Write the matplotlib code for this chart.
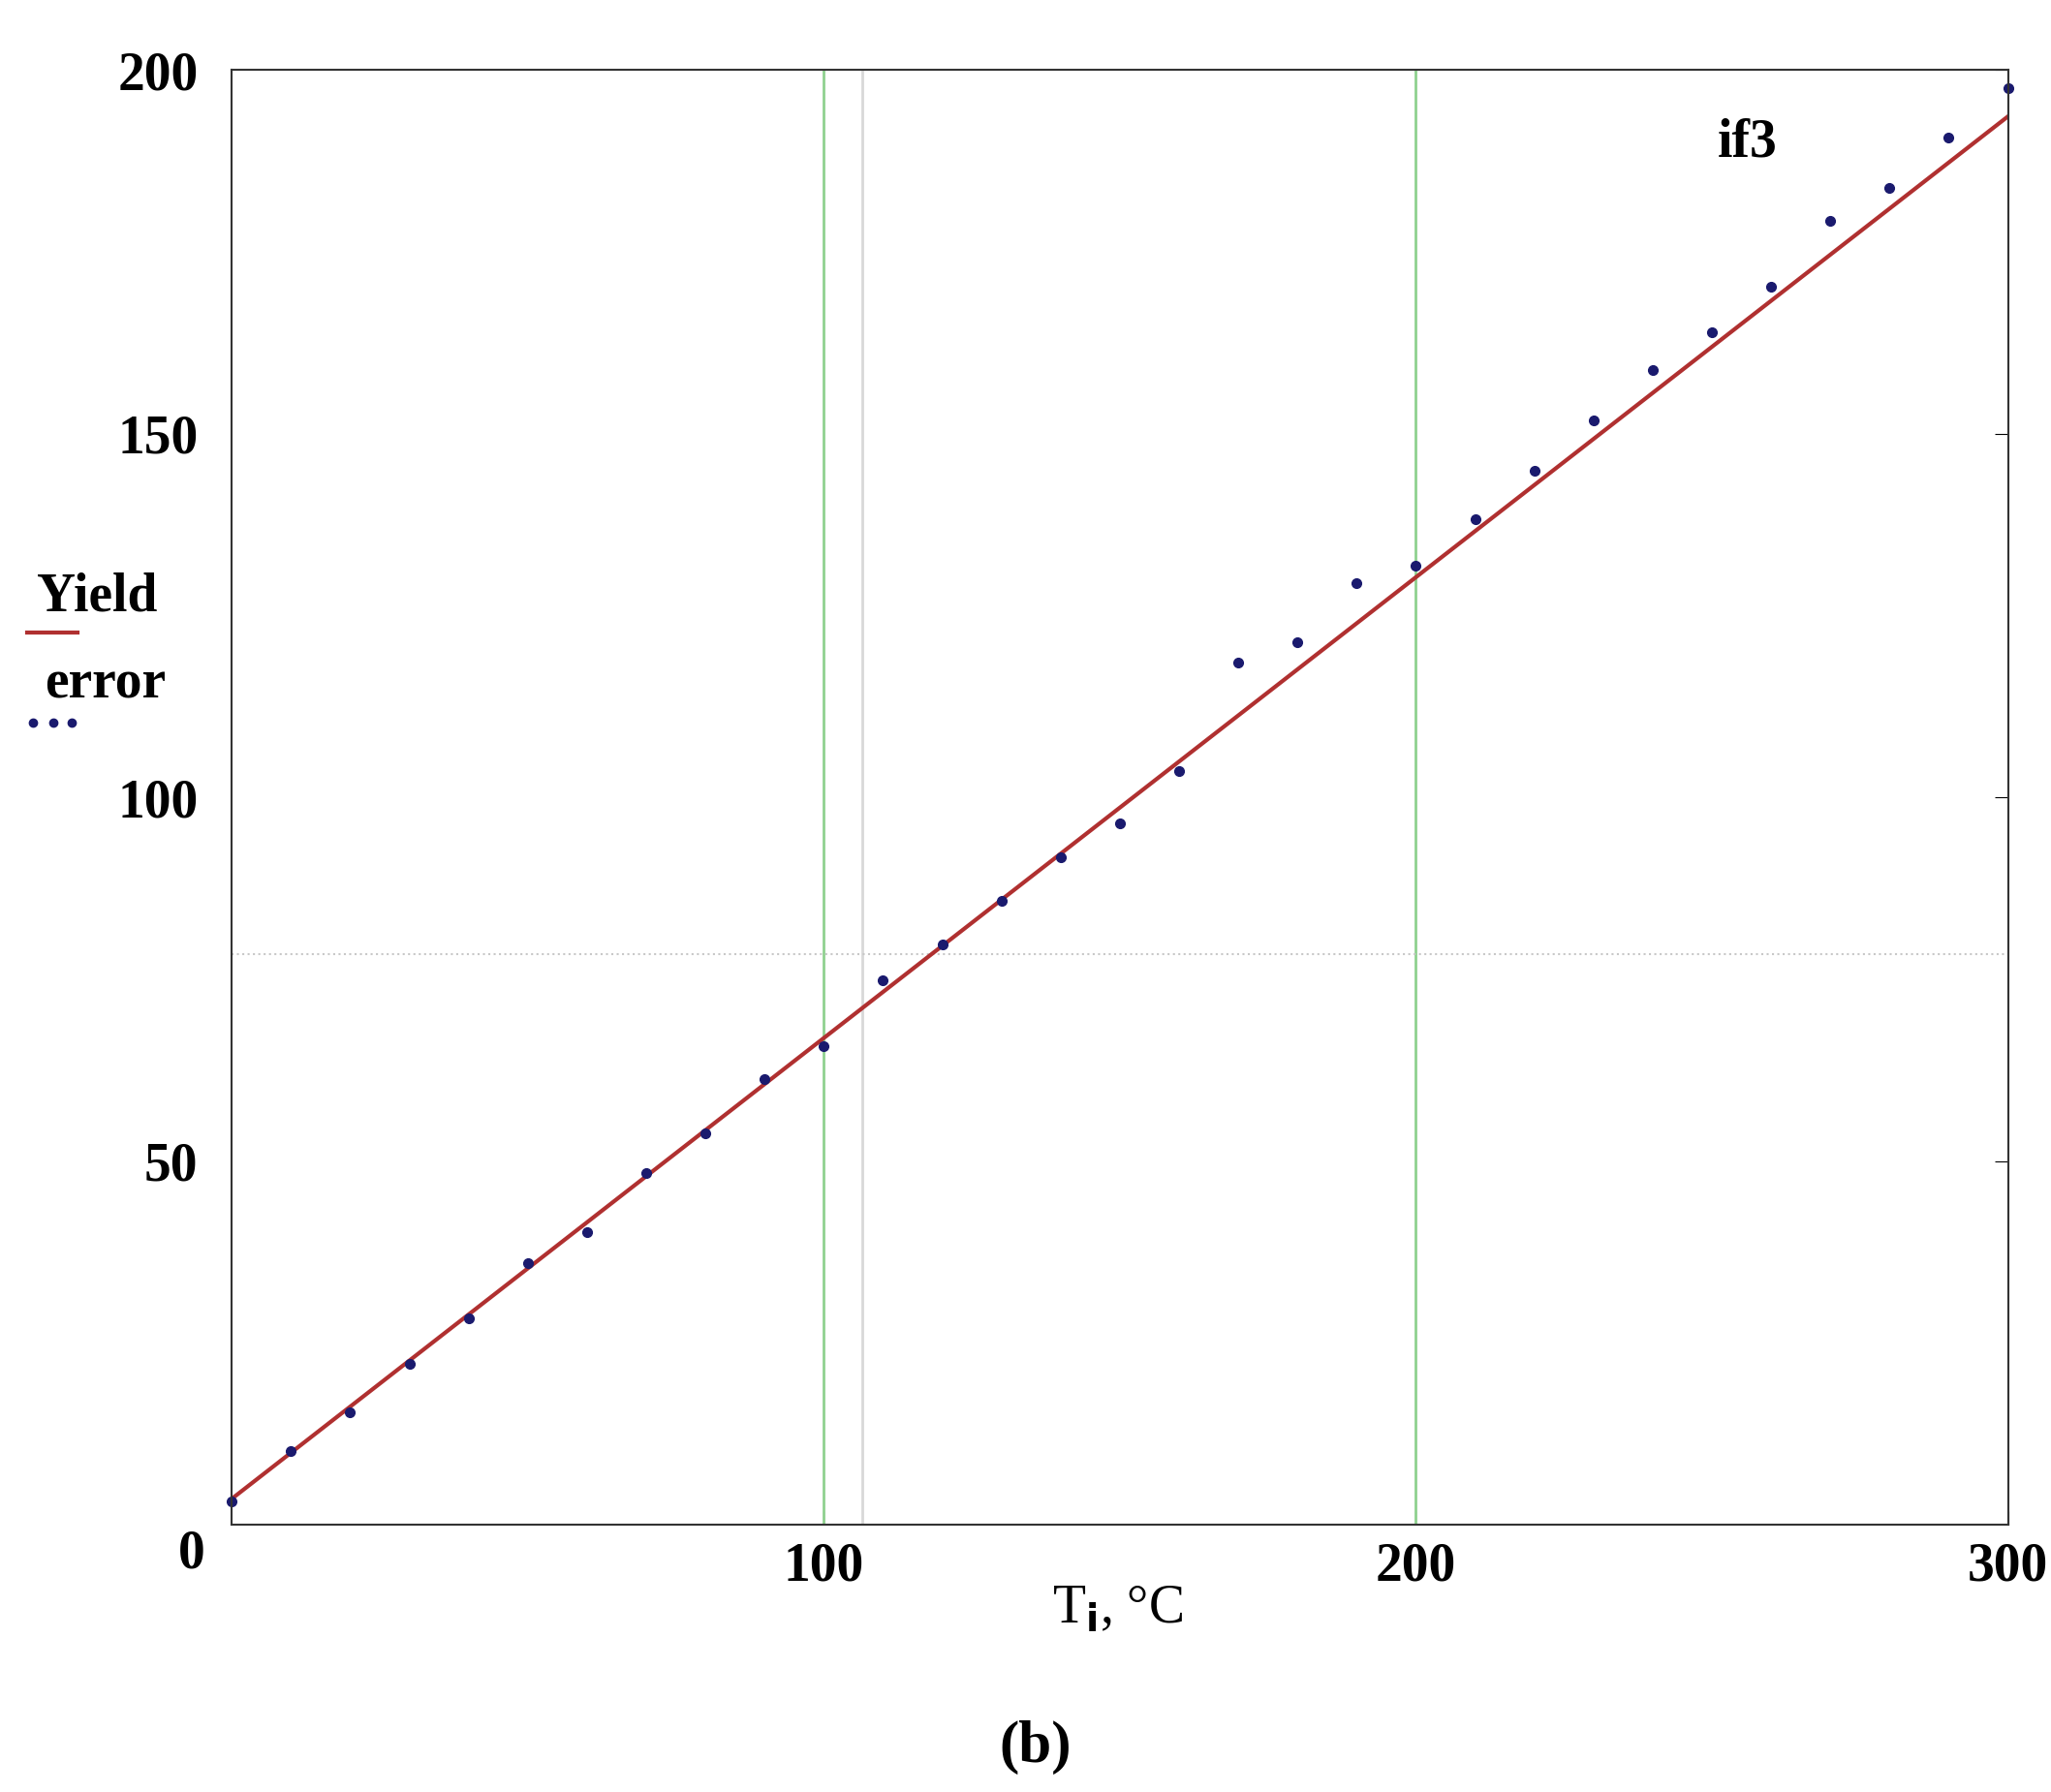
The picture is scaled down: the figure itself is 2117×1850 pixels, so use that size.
import matplotlib
matplotlib.use('Agg')
import matplotlib.pyplot as plt
import numpy as np

T = np.arange(0, 301, 10)
error = [3.3, 10.2, 15.5, 22.2, 28.4, 36.0, 40.2, 48.4, 53.8, 61.3, 65.8,
         74.9, 79.8, 85.8, 91.8, 96.5, 103.6, 118.5, 121.3, 129.5, 131.8,
         138.2, 144.9, 151.8, 158.7, 164.0, 170.2, 179.3, 183.8, 190.7, 197.5]
fit_x = [0, 300]
fit_y = [3.6, 193.6]

plt.rcParams['font.family'] = ['Liberation Serif', 'DejaVu Serif']

fig = plt.figure(figsize=(21.17, 18.5), dpi=100)
ax = fig.add_axes([0.113, 0.149, 0.866, 0.812])

ax.axvline(100, color='#8fd18f', lw=2)
ax.axvline(200, color='#8fd18f', lw=2)
ax.axvline(106.5, color='#d8d8d8', lw=2)
ax.axhline(78.4, color='#c8c8c8', lw=1.5, ls=':')

ax.plot(fit_x, fit_y, color='#b03030', lw=3)
ax.plot(T, error, 'o', color='#1a1a6e', ms=7, clip_on=False)

ax.set_xlim(0, 300)
ax.set_ylim(0, 200)
ax.set_xticks([100, 200, 300])
ax.set_yticks([50, 100, 150, 200])
ax.tick_params(direction='in', length=10, labelsize=40, right=True, left=False, top=False)
for lbl in ax.get_xticklabels() + ax.get_yticklabels():
    lbl.set_fontweight('bold')
ax.tick_params(axis='y', pad=25)
ax.tick_params(axis='x', pad=12)
for s in ax.spines.values():
    s.set_linewidth(1.5)
    s.set_color('#333333')

ax.text(-0.015, -0.02, '0', transform=ax.transAxes, ha='right', va='center', fontsize=40, fontweight='bold')
ax.text(256, 190, 'if3', fontsize=40, fontweight='bold', ha='center', va='center')

fig.text(0.545, 0.102, r'T$_{\mathbf{i}}$, °C', fontsize=40, ha='center', va='center')
fig.text(0.505, 0.025, '(b)', fontsize=44, fontweight='bold', ha='center', va='center')

# left legend
fig.text(0.018, 0.667, 'Yield', fontsize=40, fontweight='bold', ha='left', va='center')
fig.add_artist(plt.Line2D([0.013, 0.038], [0.647, 0.647], color='#b03030', lw=3))
fig.text(0.022, 0.618, 'error', fontsize=40, fontweight='bold', ha='left', va='center')
fig.add_artist(plt.Line2D([0.016, 0.026, 0.035], [0.597, 0.597, 0.597], color='#1a1a6e',
                          ls='none', marker='o', ms=6))

fig.savefig('out.png', dpi=100)
